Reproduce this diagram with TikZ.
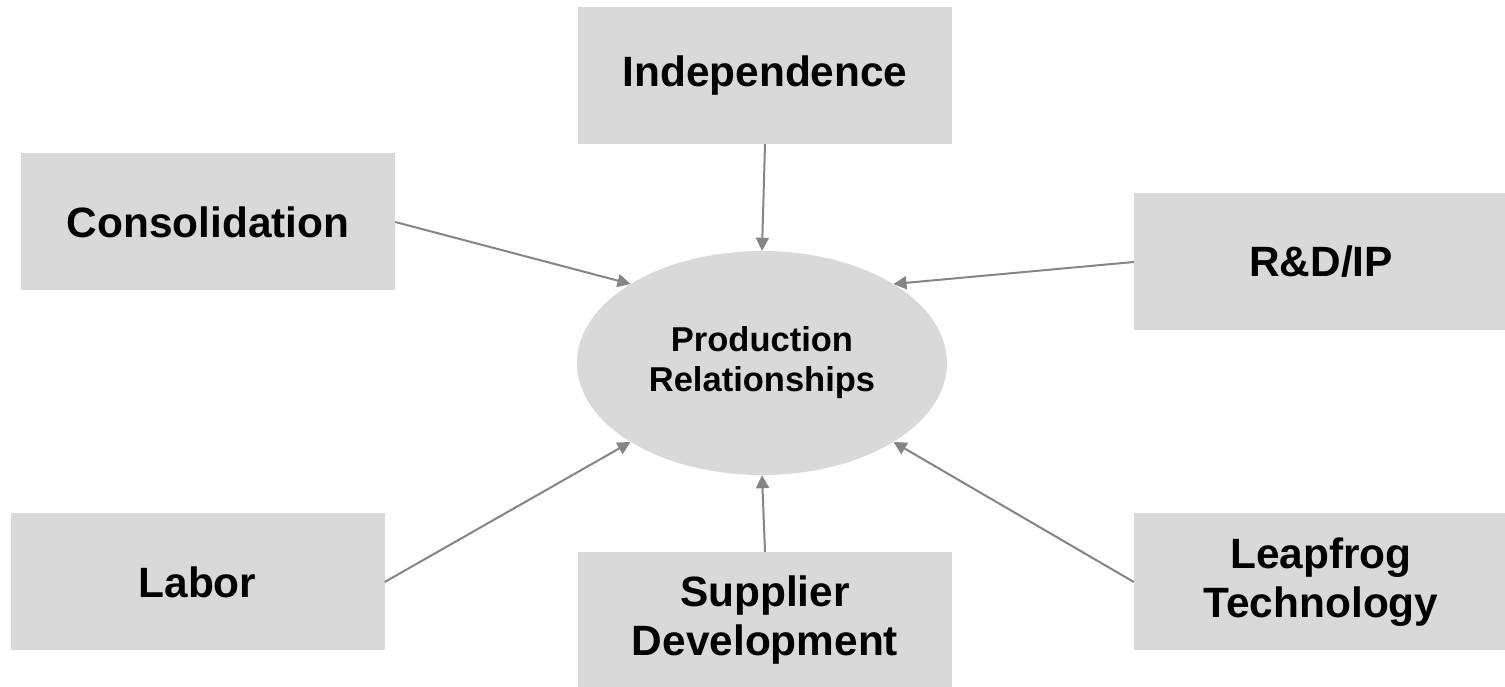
\documentclass[tikz,border=0pt]{standalone}
\usepackage{fontspec}
\setmainfont{Liberation Sans}
\usetikzlibrary{arrows.meta,shapes.geometric}
\definecolor{boxgray}{HTML}{D9D9D9}
\definecolor{arrowgray}{HTML}{858585}

\begin{document}
\begin{tikzpicture}[x=1pt,y=1pt,
    factor/.style={fill=boxgray, minimum width=374pt, minimum height=137pt,
        inner sep=0pt, align=center, font=\fontsize{42.4}{49}\selectfont\bfseries},
    center/.style={ellipse, fill=boxgray, minimum width=370pt, minimum height=224pt,
        inner sep=0pt, align=center, font=\fontsize{34.5}{40}\selectfont\bfseries},
    arr/.style={draw=arrowgray, line width=2pt, -{Triangle[length=13pt,width=13pt]}}]
    \useasboundingbox (0,0) rectangle (1505,687);

    % Centre
    \node[center] (prod) at (762,324) {Production\\Relationships};

    % Factors
    \node[factor] (indep) at (765,611.5) {Independence};
    \node[factor] (cons) at (208,465) {Consolidation};
    \node[factor] (rdip) at (1321,425) {R\&D/IP};
    \node[factor] (labor) at (197.5,105) {Labor};
    \node[factor] (supp) at (765,66.5) {Supplier\\Development};
    \node[factor] (leap) at (1321,105) {Leapfrog\\Technology};

    % Arrows
    \draw[arr] (indep.south) -- (prod.north);
    \draw[arr] (supp.north) -- (prod.south);
    \foreach \n/\s/\a in {cons/east/149, rdip/west/31, labor/east/211, leap/west/329} {
        \draw[arr] (\n.\s) -- (prod.\a);
    }
\end{tikzpicture}
\end{document}
